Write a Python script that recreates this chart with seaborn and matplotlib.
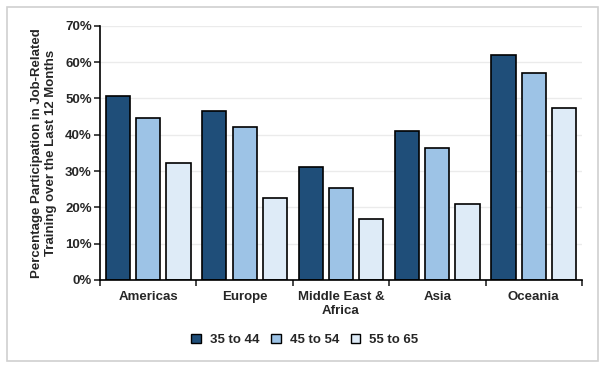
import matplotlib
matplotlib.use("Agg")
import matplotlib.pyplot as plt
import matplotlib.patches as mpatches
import pandas as pd
import seaborn as sns

# --- data ---
regions = ["Americas", "Europe", "Middle East &\nAfrica", "Asia", "Oceania"]
age_groups = ["35 to 44", "45 to 54", "55 to 65"]
age_35_44 = [50.7, 46.6, 31.2, 41.1, 62.0]
age_45_54 = [44.7, 42.2, 25.3, 36.4, 57.1]
age_55_65 = [32.3, 22.5, 16.8, 20.8, 47.3]
y_ticks = [0, 10, 20, 30, 40, 50, 60, 70]

colors = ["#1F4E79", "#9DC3E6", "#DEEBF7"]

df = pd.DataFrame({
    "region": regions * 3,
    "age": [a for a in age_groups for _ in regions],
    "value": age_35_44 + age_45_54 + age_55_65,
})

sns.set_style("white")
plt.rcParams["font.family"] = ["Liberation Sans", "DejaVu Sans"]
plt.rcParams["font.weight"] = "bold"

FS = 9.5

fig = plt.figure(figsize=(6.1, 3.65), dpi=100)
ax = fig.add_axes([0.164, 0.233, 0.79, 0.696])

sns.barplot(data=df, x="region", y="value", hue="age", hue_order=age_groups,
            palette=colors, width=0.94, gap=0.2, edgecolor="black",
            linewidth=1.2, saturation=1, legend=False, ax=ax)

ax.set_ylim(0, 70)
ax.set_xlim(-0.5, 4.5)
ax.set_yticks(y_ticks)
ax.set_yticklabels([f"{t}%" for t in y_ticks], fontsize=FS, fontweight="bold")
ax.set_xticks(range(len(regions)))
ax.set_xticklabels(regions, fontsize=FS, fontweight="bold")
ax.tick_params(axis="x", length=0, pad=8)
ax.set_xticks([i - 0.5 for i in range(len(regions) + 1)], minor=True)
ax.tick_params(axis="x", which="minor", length=4, width=1.2, direction="out",
               bottom=True)
ax.tick_params(axis="y", length=4, width=1.2, direction="out", left=True, pad=2)

ax.yaxis.grid(True, color="#EBEBEB", linewidth=1)
ax.set_axisbelow(True)
for side in ["top", "right"]:
    ax.spines[side].set_visible(False)
for side in ["left", "bottom"]:
    ax.spines[side].set_color("black")
    ax.spines[side].set_linewidth(1.2)

ax.set_xlabel("")
ax.set_ylabel("Percentage Participation in Job-Related\nTraining over the Last 12 Months",
              fontsize=FS, fontweight="bold", labelpad=6)

handles = [mpatches.Patch(facecolor=c, edgecolor="black", linewidth=1, label=a)
           for c, a in zip(colors, age_groups)]
fig.legend(handles=handles, loc="center", bbox_to_anchor=(0.5, 0.068), ncol=3,
           frameon=False, handlelength=0.7, handleheight=0.7, handletextpad=0.7,
           columnspacing=0.9, prop={"size": FS, "weight": "bold"})

# light grey frame around the whole chart
fig.patches.append(mpatches.Rectangle((0.012, 0.01), 0.968, 0.97,
                                      transform=fig.transFigure, fill=False,
                                      edgecolor="#D0D0D0", linewidth=1.2))

fig.savefig("out.png", dpi=100)
